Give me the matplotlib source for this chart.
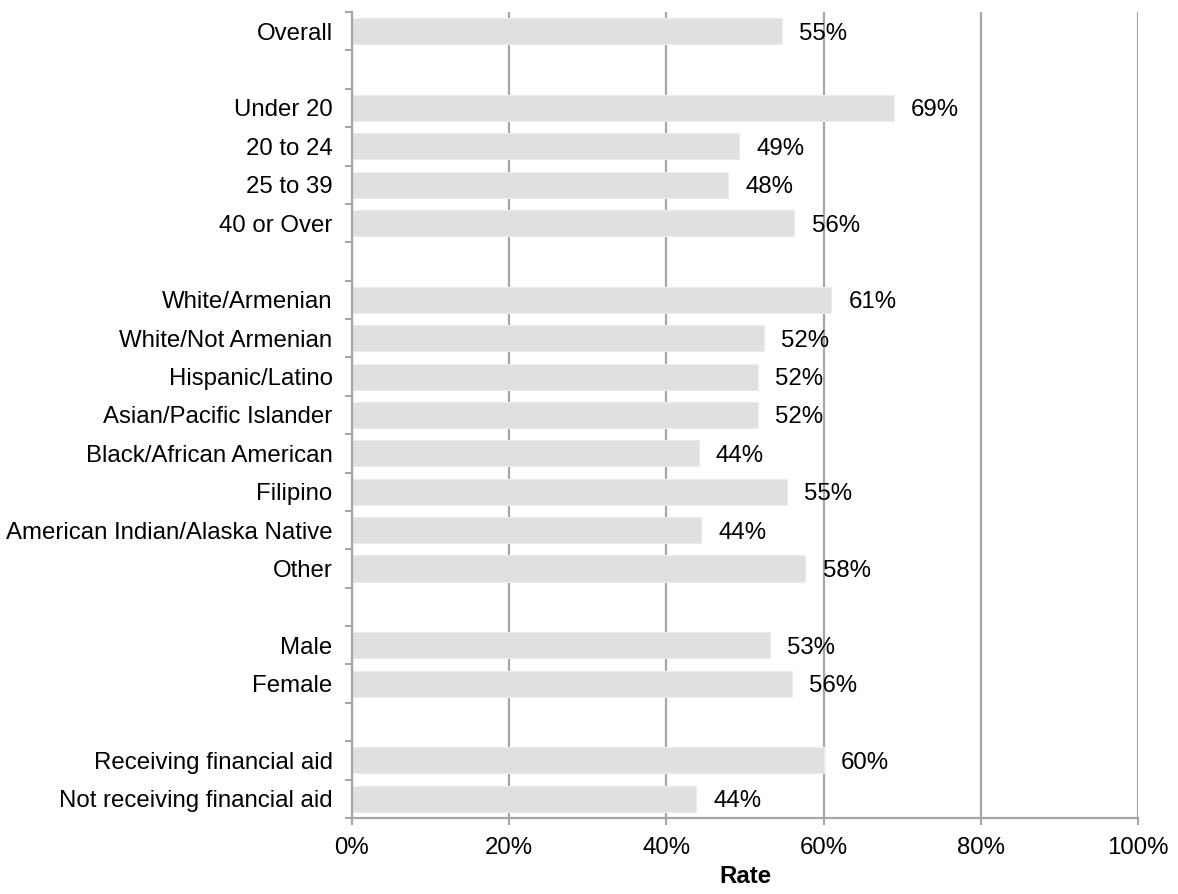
import numpy as np
import matplotlib
matplotlib.use('Agg')
import matplotlib.pyplot as plt
from matplotlib.ticker import FixedLocator, PercentFormatter

plt.rcParams['font.family'] = ['Liberation Sans', 'DejaVu Sans']

# empty strings are the blank spacer rows between groups
categories = ['Overall', '',
              'Under 20', '20 to 24', '25 to 39', '40 or Over', '',
              'White/Armenian', 'White/Not Armenian', 'Hispanic/Latino',
              'Asian/Pacific Islander', 'Black/African American', 'Filipino',
              'American Indian/Alaska Native', 'Other', '',
              'Male', 'Female', '',
              'Receiving financial aid', 'Not receiving financial aid']
rates = [54.7, np.nan,
         68.9, 49.2, 47.8, 56.3, np.nan,
         61.0, 52.4, 51.6, 51.6, 44.1, 55.3, 44.4, 57.7, np.nan,
         53.2, 56.0, np.nan,
         60.0, 43.8]

grid_col = '#a6a6a6'
bar_col = '#e0e0e0'
fs = 17.3

fig = plt.figure(figsize=(11.78, 8.94), dpi=100)
ax = fig.add_axes([0.2988, 0.085, 0.966 - 0.2988, 0.9866 - 0.085])

y = np.arange(len(categories))
ax.barh(y, rates, height=0.68, color=bar_col, edgecolor='#ececec',
        linewidth=0.8, zorder=2)

for yi, v in zip(y, rates):
    if np.isnan(v):
        continue
    ax.annotate(f'{v:.0f}%', (v, yi), xytext=(12.5, 0), textcoords='offset points',
                va='center_baseline', ha='left', fontsize=fs, zorder=3)

ax.set_xlim(0, 100)
ax.set_ylim(len(categories) - 0.5, -0.5)

ax.set_xticks([0, 20, 40, 60, 80, 100])
ax.xaxis.set_major_formatter(PercentFormatter(decimals=0))
ax.tick_params(axis='x', length=5, width=1.5, color=grid_col, pad=9,
               labelsize=fs)
ax.grid(axis='x', color=grid_col, linewidth=1.6, zorder=0)
ax.set_axisbelow(True)

label_rows = [i for i, c in enumerate(categories) if c]
ax.set_yticks(label_rows)
ax.set_yticklabels([categories[i] for i in label_rows])
ax.tick_params(axis='y', which='major', length=0, pad=14, labelsize=fs)
ax.yaxis.set_minor_locator(FixedLocator(np.arange(-0.5, len(categories), 1.0)))
ax.tick_params(axis='y', which='minor', length=5, width=1.5, color=grid_col)

for s in ['top', 'right']:
    ax.spines[s].set_visible(False)
for s in ['left', 'bottom']:
    ax.spines[s].set_color(grid_col)
    ax.spines[s].set_linewidth(1.6)

ax.set_xlabel('Rate', fontsize=fs, fontweight='bold', labelpad=4)

fig.savefig('out.png', dpi=100)
